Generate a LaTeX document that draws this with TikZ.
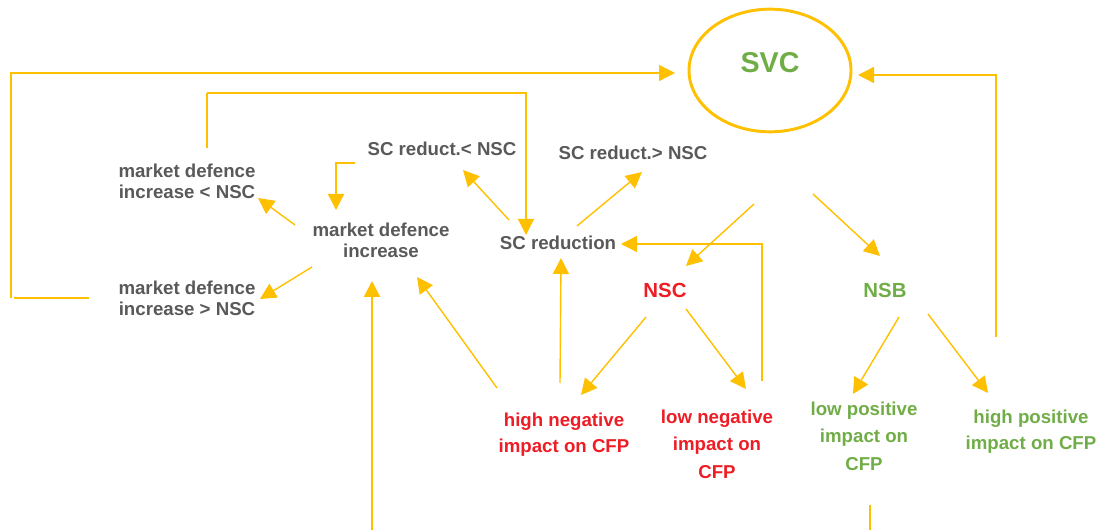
\documentclass[tikz,border=0pt]{standalone}
\usepackage{fontspec}
\setmainfont{Liberation Sans}
\usetikzlibrary{arrows.meta,shapes.geometric}
\definecolor{lineY}{HTML}{FFC000}
\definecolor{txtGrey}{HTML}{595959}
\definecolor{txtRed}{HTML}{EE1C25}
\definecolor{txtGreen}{HTML}{70AD47}
\begin{document}
\begin{tikzpicture}[x=0.75pt,y=-0.75pt,
  lbl/.style={font=\bfseries\fontsize{14}{16}\selectfont, inner sep=0pt, align=center},
  greylbl/.style={lbl,text=txtGrey},
  redlbl/.style={lbl,text=txtRed},
  greenlbl/.style={lbl,text=txtGreen},
  conn/.style={draw=lineY, line width=1.05pt},
  thickconn/.style={draw=lineY, line width=1.6pt},
  arr/.style={conn,-{Triangle[length=12pt,width=12pt]}},
  thickarr/.style={thickconn,-{Triangle[length=12pt,width=12pt]}},
]
\useasboundingbox (0,0) rectangle (1102,530);

% nodes
\node[draw=lineY, line width=2.2pt, ellipse, inner sep=0pt,
      minimum width=121.5pt, minimum height=92pt] (svc) at (770,70.5) {};
\node[lbl, text=txtGreen, font=\bfseries\fontsize{21.5}{26}\selectfont] (svcT) at (770,63) {SVC};

\node[greylbl] (mdLess) at (187,181) {market defence\\increase < NSC};
\node[greylbl] (mdMore) at (187,298) {market defence\\increase > NSC};
\node[greylbl] (mdInc) at (381,240) {market defence\\increase};
\node[greylbl] (scLess) at (442,149) {SC reduct.< NSC};
\node[greylbl] (scMore) at (633,153) {SC reduct.> NSC};
\node[greylbl] (scRed) at (558,243) {SC reduction};
\node[redlbl, font=\bfseries\fontsize{15.3}{18}\selectfont] (nsc) at (665,290) {NSC};
\node[greenlbl, font=\bfseries\fontsize{15.3}{18}\selectfont] (nsb) at (885,290) {NSB};
\node[redlbl, font=\bfseries\fontsize{14}{19.5}\selectfont] (hNeg) at (564,435) {high negative\\impact on CFP};
\node[redlbl, font=\bfseries\fontsize{14}{20.5}\selectfont] (lNeg) at (717,444) {low negative\\impact on\\CFP};
\node[greenlbl, font=\bfseries\fontsize{14}{20.5}\selectfont] (lPos) at (864,436) {low positive\\impact on\\CFP};
\node[greenlbl, font=\bfseries\fontsize{14}{19.5}\selectfont] (hPos) at (1031,432) {high positive\\impact on CFP};

% connector ends
\coordinate (mdMoreOut) at (89,298);
\coordinate (svcInL) at (675,73);
\coordinate (mdLessOut) at (207,148);
\coordinate (scRedInTop) at (526,235);
\coordinate (scLessOut) at (355,163);
\coordinate (mdIncInTop) at (336,210);
\coordinate (scRedOutL) at (509,220);
\coordinate (scLessIn) at (463,170);
\coordinate (scRedOutR) at (577,226);
\coordinate (scMoreIn) at (642,172);
\coordinate (mdIncOutL) at (295,225);
\coordinate (mdLessIn) at (258,198);
\coordinate (mdIncOutB) at (312,267);
\coordinate (mdMoreIn) at (260,299);
\coordinate (lNegOut) at (762,381);
\coordinate (scRedInR) at (621,244);
\coordinate (svcOutL) at (754,204);
\coordinate (nscIn) at (686,266);
\coordinate (svcOutR) at (813,194);
\coordinate (nsbIn) at (880,256);
\coordinate (hPosOut) at (996,337);
\coordinate (svcInR) at (858,75);
\coordinate (nscOutL) at (646,317);
\coordinate (hNegIn) at (581,395);
\coordinate (nscOutR) at (686,309);
\coordinate (lNegIn) at (746,389);
\coordinate (hNegOutUp) at (560,383);
\coordinate (scRedInB) at (561,258);
\coordinate (hNegOutL) at (497,388);
\coordinate (mdIncInB) at (417,277);
\coordinate (bottomA) at (372,530);
\coordinate (mdIncInB2) at (372,281);
\coordinate (lPosOut) at (870,505);
\coordinate (bottomB) at (870,530);
\coordinate (nsbOutL) at (899,317);
\coordinate (lPosIn) at (853,394);
\coordinate (nsbOutR) at (928,314);
\coordinate (hPosIn) at (988,393);

% connectors
\draw[thickconn] (mdMoreOut) -- (14,298);
\draw[arr] (11,298) |- (svcInL);
\draw[thickconn] (mdLessOut) -- (207,93);
\draw[arr] (207,93) -| (scRedInTop);
\draw[arr] (scLessOut) -| (mdIncInTop);
\draw[arr] (scRedOutL) -- (scLessIn);
\draw[arr] (scRedOutR) -- (scMoreIn);
\draw[arr] (mdIncOutL) -- (mdLessIn);
\draw[arr] (mdIncOutB) -- (mdMoreIn);
\draw[arr] (lNegOut) |- (scRedInR);
\draw[arr] (svcOutL) -- (nscIn);
\draw[arr] (svcOutR) -- (nsbIn);
\draw[arr] (hPosOut) |- (svcInR);
\draw[arr] (nscOutL) -- (hNegIn);
\draw[arr] (nscOutR) -- (lNegIn);
\draw[arr] (hNegOutUp) -- (scRedInB);
\draw[arr] (hNegOutL) -- (mdIncInB);
\draw[thickarr] (bottomA) -- (mdIncInB2);
\draw[thickconn] (lPosOut) -- (bottomB);
\draw[arr] (nsbOutL) -- (lPosIn);
\draw[arr] (nsbOutR) -- (hPosIn);
\end{tikzpicture}
\end{document}
